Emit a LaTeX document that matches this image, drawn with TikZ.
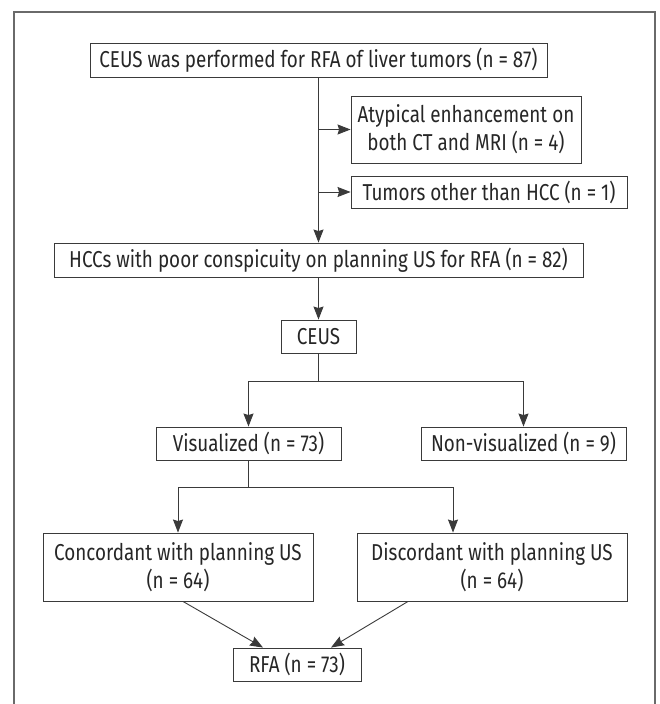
\documentclass[tikz,border=0pt]{standalone}
\usepackage{fontspec}
\setmainfont[FakeStretch=0.82]{Fira Sans}
\usepackage{tikz}
\usetikzlibrary{calc,positioning,arrows.meta}
\definecolor{linegray}{HTML}{3A3A3A}
\definecolor{framegray}{HTML}{6A6A6A}
\tikzset{
  >={Stealth[length=13pt,width=10pt,inset=1.5pt]},
  flowbox/.style={
    rectangle,
    draw=linegray, line width=0.9pt,
    text=black!85,
    font=\fontsize{23}{28}\selectfont,
    align=center,
    inner sep=0pt},
  connect/.style={draw=linegray, line width=0.9pt, ->},
  frameline/.style={draw=framegray, line width=1.6pt}
}
\begin{document}
\begin{tikzpicture}[x=1pt, y=-1pt]
    \useasboundingbox (0,0) rectangle (659,704);

    % outer frame, open at the bottom
    \draw[frameline] (14,704) -- (14,12) -- (655,12) -- (655,704);

    % boxes
    \node[flowbox, minimum width=457, minimum height=34] (perf) at (318.5,60)
        {CEUS was performed for RFA of liver tumors (n = 87)};
    \node[flowbox, minimum width=230, minimum height=67] (atyp) at (466,129.5)
        {Atypical enhancement on\\both CT and MRI (n = 4)};
    \node[flowbox, minimum width=276, minimum height=32] (other) at (489,192)
        {Tumors other than HCC (n = 1)};
    \node[flowbox, minimum width=529, minimum height=34] (hcc) at (318.5,260)
        {HCCs with poor conspicuity on planning US for RFA (n = 82)};
    \node[flowbox, minimum width=75, minimum height=33] (ceus) at (318.5,336.5)
        {CEUS};
    \node[flowbox, minimum width=185, minimum height=33] (vis) at (248.5,443.5)
        {Visualized (n = 73)};
    \node[flowbox, minimum width=205, minimum height=33] (nonvis) at (523.5,443.5)
        {Non-visualized (n = 9)};
    \node[flowbox, minimum width=270, minimum height=68] (conc) at (178,567)
        {Concordant with planning US\\(n = 64)};
    \node[flowbox, minimum width=270, minimum height=68] (disc) at (492,567)
        {Discordant with planning US\\(n = 64)};
    \node[flowbox, minimum width=128, minimum height=33] (rfa) at (297,664.5)
        {RFA (n = 73)};

    % exclusions
    \draw[connect] (perf.south) -- (hcc.north);
    \draw[connect] (perf.south |- atyp.west) -- (atyp.west);
    \draw[connect] (perf.south |- other.west) -- (other.west);

    % CEUS split
    \draw[connect] (hcc.south) -- (ceus.north);
    \coordinate (split1) at ($(ceus.south)+(0,28)$);
    \draw[connect] (ceus.south) -- (split1) -| (vis.north);
    \draw[connect] (split1) -| (nonvis.north);

    % concordance split
    \coordinate (split2) at ($(vis.south)+(0,27)$);
    \draw[connect] (vis.south) -- (split2) -| (conc.north);
    \draw[connect] (split2) -| ($(disc.north)+(-39,0)$);

    % to RFA
    \draw[connect] ($(conc.south)+(5,0)$) -- ($(rfa.north)+(-34,0)$);
    \draw[connect] ($(disc.south)+(-84,0)$) -- ($(rfa.north)+(34,0)$);
\end{tikzpicture}
\end{document}
